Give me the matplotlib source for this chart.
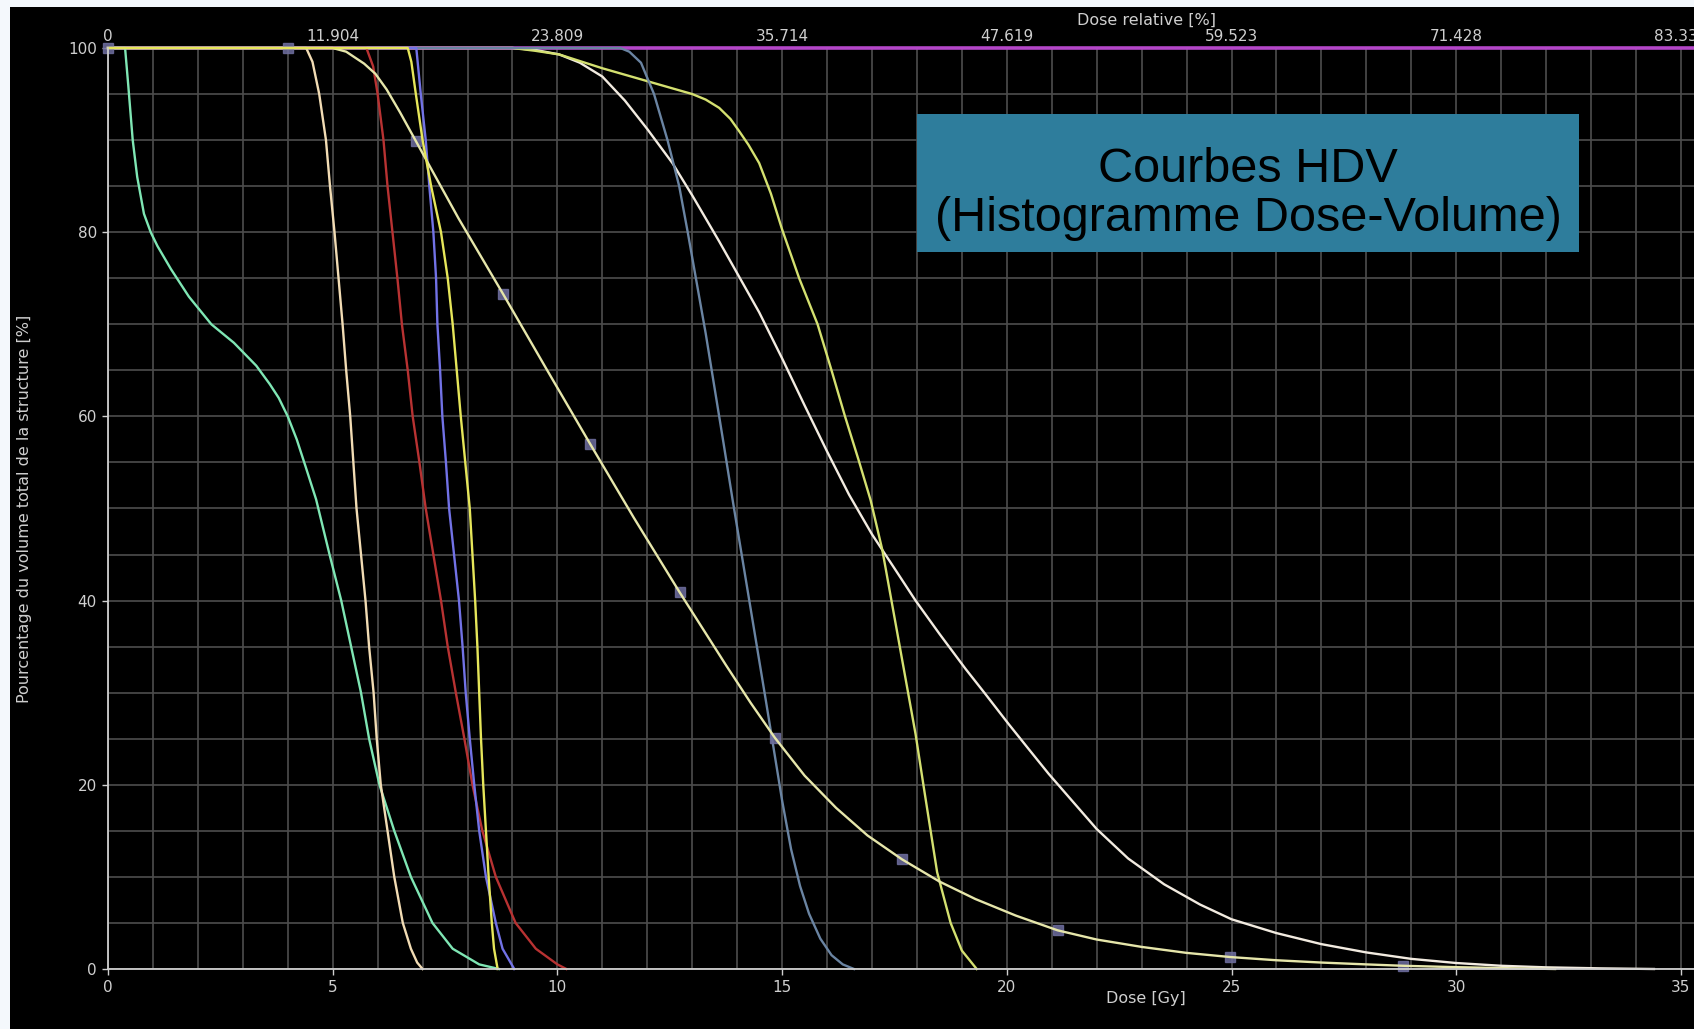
import numpy as np
import matplotlib
matplotlib.use('Agg')
import matplotlib.pyplot as plt
from matplotlib.patches import Rectangle

# courbes HDV : dose [Gy] / volume [%]
dose_vert = [0, 0.38, 0.45, 0.55, 0.65, 0.8, 0.95, 1.1, 1.4, 1.8, 2.3, 2.8, 3.3, 3.6, 3.8, 4.0, 4.2, 4.4,
             4.63, 4.93, 5.19, 5.41, 5.63, 5.81, 6.04, 6.37, 6.74, 7.22, 7.67, 8.26, 8.7]
vol_vert = [100, 100, 96, 90, 86, 82, 80, 78.5, 76, 73, 70, 68, 65.5, 63.5, 62, 60, 57.5, 54.5,
            51, 45, 40, 35, 30, 25, 20, 15, 10, 5, 2.2, 0.5, 0]

dose_beige = [0, 4.41, 4.55, 4.70, 4.85, 4.94, 5.04, 5.13, 5.22, 5.30, 5.39, 5.46, 5.53, 5.63, 5.73,
              5.81, 5.91, 5.98, 6.07, 6.22, 6.37, 6.56, 6.74, 6.88, 7.0]
vol_beige = [100, 100, 98.5, 95, 90, 85, 80, 75, 70, 65, 60, 55, 50, 45, 40,
             35, 30, 25, 20, 15, 10, 5, 2.2, 0.7, 0]

dose_rouge = [0, 5.75, 5.9, 6.0, 6.13, 6.22, 6.33, 6.44, 6.54, 6.67, 6.78, 6.93, 7.07, 7.24, 7.41,
              7.56, 7.74, 7.93, 8.11, 8.33, 8.63, 9.07, 9.52, 10.0, 10.2]
vol_rouge = [100, 100, 98, 95, 90, 85, 80, 75, 70, 65, 60, 55, 50, 45, 40,
             35, 30, 25, 20, 15, 10, 5, 2.2, 0.5, 0]

dose_bleu = [0, 6.86, 6.96, 7.07, 7.15, 7.24, 7.30, 7.33, 7.39, 7.44, 7.52, 7.59, 7.70, 7.81, 7.89,
             7.96, 8.05, 8.15, 8.26, 8.41, 8.63, 8.78, 9.04]
vol_bleu = [100, 100, 95, 90, 85, 80, 75, 70, 65, 60, 55, 50, 45, 40, 35,
            30, 25, 20, 15, 10, 5, 2.2, 0]

dose_jaune = [0, 6.67, 6.75, 6.85, 7.0, 7.19, 7.41, 7.56, 7.67, 7.76, 7.85, 7.95, 8.05, 8.11, 8.17,
              8.22, 8.26, 8.30, 8.35, 8.41, 8.47, 8.54, 8.59, 8.67]
vol_jaune = [100, 100, 98.5, 95, 90, 85, 80, 75, 70, 65, 60, 55, 50, 45, 40,
             35, 30, 25, 20, 15, 10, 5, 2.2, 0]

dose_diag = [0, 5.0, 5.3, 5.7, 5.95, 6.2, 6.5, 6.85, 7.8, 8.79, 9.75, 10.73, 11.7, 12.72, 13.75,
             14.3, 14.84, 15.5, 16.2, 16.9, 17.67, 18.5, 19.3, 20.2, 21.13, 22.0, 23.0, 24.0, 24.97,
             26.0, 27.0, 28.0, 28.81, 30.0, 31.0, 32.2]
vol_diag = [100, 100, 99.6, 98.3, 97.2, 95.5, 93.0, 89.9, 81.5, 73.3, 65.2, 57.0, 49.0, 40.9, 33.0,
            28.9, 25.1, 21.0, 17.5, 14.5, 11.9, 9.5, 7.6, 5.8, 4.2, 3.2, 2.4, 1.75, 1.3,
            0.95, 0.7, 0.5, 0.35, 0.2, 0.1, 0]

# petits reperes carres sur la courbe diagonale
dose_reperes = [0, 4.01, 6.85, 8.79, 10.73, 12.72, 14.84, 17.67, 21.13, 24.97, 28.81]
vol_reperes = [100, 100, 89.9, 73.3, 57.0, 40.9, 25.1, 11.9, 4.2, 1.3, 0.35]

dose_ardoise = [0, 11.4, 11.6, 11.86, 12.15, 12.45, 12.71, 12.9, 13.1, 13.3, 13.5, 13.7, 13.9, 14.27,
                14.64, 15.0, 15.2, 15.4, 15.6, 15.85, 16.1, 16.35, 16.6]
vol_ardoise = [100, 100, 99.6, 98.4, 95, 90, 85, 80, 74.5, 69, 63, 57, 50.9, 40,
               29.1, 18.3, 13, 9, 6, 3.3, 1.5, 0.5, 0]

dose_vertjaune = [0, 9.0, 9.5, 10.04, 11.0, 12.0, 13.0, 13.3, 13.6, 13.85, 14.04, 14.25, 14.49, 14.75,
                  15.0, 15.38, 15.79, 16.1, 16.4, 16.7, 16.97, 17.23, 17.6, 17.97, 18.16, 18.45,
                  18.75, 19.0, 19.33]
vol_vertjaune = [100, 100, 99.7, 99.3, 97.8, 96.4, 95, 94.4, 93.5, 92.3, 91, 89.5, 87.5, 84.2,
                 80.3, 75, 70, 65, 60, 55.3, 50.9, 45.5, 35.5, 25.5, 19.5, 10.5,
                 5, 2, 0]

dose_creme = [0, 9.0, 9.5, 10.04, 10.5, 11.0, 11.5, 12.0, 12.56, 13.0, 13.6, 14.04, 14.49, 15.0,
              15.5, 16.0, 16.49, 17.0, 17.5, 17.97, 18.5, 19.08, 19.5, 20.04, 20.5, 20.93, 21.5,
              22.0, 22.7, 23.5, 24.3, 25.0, 26.0, 27.0, 28.0, 29.0, 30.0, 31.0, 32.0, 33.2, 34.4]
vol_creme = [100, 100, 99.8, 99.3, 98.4, 96.9, 94.3, 91.2, 87.5, 84, 79, 75.2, 71.3, 66.3,
             61.2, 56.2, 51.5, 47.2, 43.5, 40, 36.4, 32.6, 30, 26.6, 23.8, 21.2, 18.0,
             15.2, 12.0, 9.2, 7.0, 5.4, 3.9, 2.7, 1.8, 1.1, 0.65, 0.35, 0.18, 0.07, 0]

dose_magenta = [0, 47]
vol_magenta = [100, 100]

ticks_dose = [0, 5, 10, 15, 20, 25, 30, 35]
ticks_dose_rel = [0, 5, 10, 15, 20, 25, 30, 35]
labels_dose_rel = ['0', '11.904', '23.809', '35.714', '47.619', '59.523', '71.428', '83.333']

W, H = 1694, 1029
px_gy = 44.94
x0, y0, y100 = 108, 969, 48
xmax = 46.2

fig = plt.figure(figsize=(W / 100, H / 100), dpi=100, facecolor='black')
ax = fig.add_axes([x0 / W, 1 - y0 / H, xmax * px_gy / W, (y0 - y100) / H])
ax.set_facecolor('black')
ax.set_xlim(0, xmax)
ax.set_ylim(0, 100)

gris = '#cfcfcf'
ax.set_xticks(ticks_dose)
ax.set_xticks(np.arange(0, 47, 1), minor=True)
ax.set_yticks(np.arange(0, 101, 20))
ax.set_yticks(np.arange(0, 101, 5), minor=True)
ax.grid(which='both', color='#4d4d4d', lw=1.2)
ax.set_axisbelow(True)
ax.tick_params(which='minor', length=0)
ax.tick_params(which='major', colors=gris, labelsize=11, length=4, width=1, pad=4)
for s in ['top', 'right']:
    ax.spines[s].set_visible(False)
for s in ['left', 'bottom']:
    ax.spines[s].set_color(gris)
    ax.spines[s].set_linewidth(1.3)

ax.set_xlabel('Dose [Gy]', color=gris, fontsize=11.5)
ax.xaxis.set_label_coords(0.5, -0.024)
ax.set_ylabel('Pourcentage du volume total de la structure [%]', color=gris, fontsize=11.5)
ax.yaxis.set_label_coords((32 - x0) / (xmax * px_gy), 0.5)

ax2 = ax.twiny()
ax2.set_xlim(0, xmax)
ax2.set_xticks(ticks_dose_rel)
ax2.set_xticklabels(labels_dose_rel)
ax2.tick_params(length=0, pad=3, labelcolor=gris, labelsize=11)
for s in ax2.spines.values():
    s.set_visible(False)
ax2.set_xlabel('Dose relative [%]', color=gris, fontsize=11.5)
ax2.xaxis.set_label_coords(0.5, 1.0255)

lw = 1.7
ax.plot(dose_magenta, vol_magenta, color='#b446c8', lw=2.6, clip_on=False)
ax.plot(dose_creme, vol_creme, color='#f2ebe0', lw=lw, clip_on=False)
ax.plot(dose_vertjaune, vol_vertjaune, color='#d4e070', lw=lw, clip_on=False)
ax.plot(dose_ardoise, vol_ardoise, color='#6a84a2', lw=lw, clip_on=False)
ax.plot(dose_rouge, vol_rouge, color='#b83232', lw=lw, clip_on=False)
ax.plot(dose_vert, vol_vert, color='#7fe6b4', lw=lw, clip_on=False)
ax.plot(dose_beige, vol_beige, color='#f2dcb4', lw=lw, clip_on=False)
ax.plot(dose_bleu, vol_bleu, color='#7272e6', lw=lw, clip_on=False)
ax.plot(dose_reperes, vol_reperes, 's', ms=7, color='#6e6e9e', alpha=0.85, clip_on=False)
ax.plot(dose_diag, vol_diag, color='#e6e6aa', lw=lw, clip_on=False)
ax.plot(dose_jaune, vol_jaune, color='#e6e65a', lw=lw, clip_on=False)

# cadre du titre
fig.patches.append(Rectangle((917 / W, 1 - 252 / H), 662 / W, 138 / H,
                             transform=fig.transFigure, facecolor='#2e7d9c', edgecolor='none', zorder=5))
fig.text(1248 / W, 1 - 194 / H, 'Courbes HDV\n(Histogramme Dose-Volume)', ha='center', va='center',
         fontsize=35, family='Liberation Sans', color='black', linespacing=1.12, zorder=6)

# bandes claires a gauche et en haut
fig.patches.append(Rectangle((0, 0), 10 / W, 1, transform=fig.transFigure,
                             facecolor='#f4f8fc', edgecolor='none', zorder=10))
fig.patches.append(Rectangle((0, 1 - 7 / H), 1, 7 / H, transform=fig.transFigure,
                             facecolor='#f4f8fc', edgecolor='none', zorder=10))

fig.savefig('out.png', dpi=100, facecolor='black')
